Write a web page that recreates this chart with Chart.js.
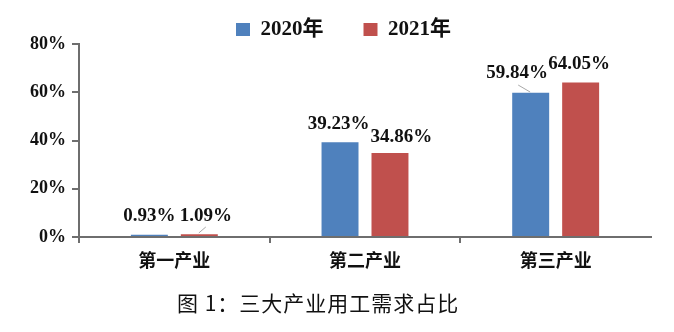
<!DOCTYPE html>
<html>
<head>
<meta charset="utf-8">
<script src="https://cdn.jsdelivr.net/npm/chart.js@4/dist/chart.umd.min.js"></script>
<style>
  html, body { margin: 0; padding: 0; background: #fff; }
  #wrap { position: relative; width: 674px; height: 332px; }
  #c { position: absolute; left: 0; top: 0; }
  #caption {
    position: absolute; left: 177px; top: 292px;
    font: 400 21px/21px "Noto Sans CJK SC", sans-serif;
    letter-spacing: 1px; color: #111; white-space: nowrap;
  }
</style>
</head>
<body>
<div id="wrap">
  <canvas id="c" width="674" height="332"></canvas>
  <div id="caption">图 1：三大产业用工需求占比</div>
</div>
<script>
// Industry shares of labour demand, in percent
const categories = ['第一产业', '第二产业', '第三产业'];
const seriesNames = ['2020年', '2021年'];
const values2020 = [0.93, 39.23, 59.84];
const values2021 = [1.09, 34.86, 64.05];
const yTickValues = [0, 20, 40, 60, 80];

const BLUE = '#4F81BD';
const RED = '#C0504D';
const AXIS = '#6e6e6e';
const TEXT = '#111111';
const SERIF_BOLD = { family: '"Liberation Serif", "Noto Sans CJK SC", serif', weight: 'bold' };

// Value-label placement relative to the bar top centre: [dx, dy] per dataset / category
const labelShift = [
  [[0, -19], [-1.5, -18.5], [-13.5, -20]],
  [[6.5, -18.5], [11.5, -15.5], [-1.5, -18.5]]
];
// Thin connector lines for labels that sit off their bar: [x1, y1, x2, y2] relative to bar top centre
const leaderLines = {
  '0-2': [-12.5, -7.6, -0.5, -0.6],
  '1-0': [-0.5, -1.4, 6.5, -7.4]
};

const valueLabels = {
  id: 'valueLabels',
  afterDatasetsDraw(chart) {
    const ctx = chart.ctx;
    ctx.save();
    chart.data.datasets.forEach((ds, di) => {
      const meta = chart.getDatasetMeta(di);
      meta.data.forEach((bar, i) => {
        const key = di + '-' + i;
        if (leaderLines[key]) {
          const l = leaderLines[key];
          ctx.strokeStyle = '#a8a8a8';
          ctx.lineWidth = 1;
          ctx.beginPath();
          ctx.moveTo(bar.x + l[0], bar.y + l[1]);
          ctx.lineTo(bar.x + l[2], bar.y + l[3]);
          ctx.stroke();
        }
        const s = labelShift[di][i];
        ctx.font = 'bold 19px "Liberation Serif", serif';
        ctx.fillStyle = TEXT;
        ctx.textAlign = 'center';
        ctx.textBaseline = 'middle';
        ctx.fillText(ds.data[i].toFixed(2) + '%', bar.x + s[0], bar.y + s[1]);
      });
    });
    ctx.restore();
  }
};

// Legend band: fixed height so the plot starts right under it, nudged right over the plot
const LEGEND_BAND = 65;
const LEGEND_SHIFT = 18;
const legendBand = {
  id: 'legendBand',
  beforeLayout(chart) {
    const lg = chart.legend;
    if (lg && !lg.__bandFixed) {
      const fit = lg.fit;
      lg.fit = function () { fit.call(this); this.height = LEGEND_BAND; };
      lg.__bandFixed = true;
    }
  },
  afterLayout(chart) {
    const lg = chart.legend;
    if (lg) { lg.left += LEGEND_SHIFT; lg.right += LEGEND_SHIFT; }
  }
};

new Chart(document.getElementById('c'), {
  type: 'bar',
  data: {
    labels: categories,
    datasets: [
      { label: seriesNames[0], data: values2020, backgroundColor: BLUE, borderWidth: 0 },
      { label: seriesNames[1], data: values2021, backgroundColor: RED, borderWidth: 0 }
    ]
  },
  options: {
    responsive: false,
    animation: false,
    devicePixelRatio: 1,
    categoryPercentage: 0.524,
    barPercentage: 0.74,
    layout: { padding: { left: 0, right: 23, top: -21, bottom: 0 } },
    plugins: {
      tooltip: { enabled: false },
      legend: {
        position: 'top',
        labels: {
          boxWidth: 14,
          boxHeight: 13,
          padding: 40,
          color: TEXT,
          font: Object.assign({ size: 21 }, SERIF_BOLD)
        }
      }
    },
    scales: {
      x: {
        grid: {
          drawOnChartArea: false,
          drawTicks: true,
          tickLength: 6,
          lineWidth: 2,
          color: (c) => c.type === 'scale' ? 'rgba(0,0,0,0)' : AXIS
        },
        border: { display: true, color: AXIS, width: 2 },
        ticks: {
          color: TEXT,
          padding: 6,
          font: { family: '"Noto Sans CJK SC", sans-serif', size: 18, weight: 'bold' }
        },
        afterFit(scale) { scale.height = 95; }
      },
      y: {
        min: 0,
        max: 80,
        afterBuildTicks(scale) { scale.ticks = yTickValues.map(v => ({ value: v })); },
        grid: {
          drawOnChartArea: false,
          drawTicks: true,
          tickLength: 7,
          lineWidth: 2,
          color: AXIS
        },
        border: { display: true, color: AXIS, width: 2 },
        ticks: {
          color: TEXT,
          padding: 6,
          font: Object.assign({ size: 18 }, SERIF_BOLD),
          callback: (v) => v + '%'
        },
        afterFit(scale) { scale.width = 79; }
      }
    }
  },
  plugins: [legendBand, valueLabels]
});
</script>
</body>
</html>
